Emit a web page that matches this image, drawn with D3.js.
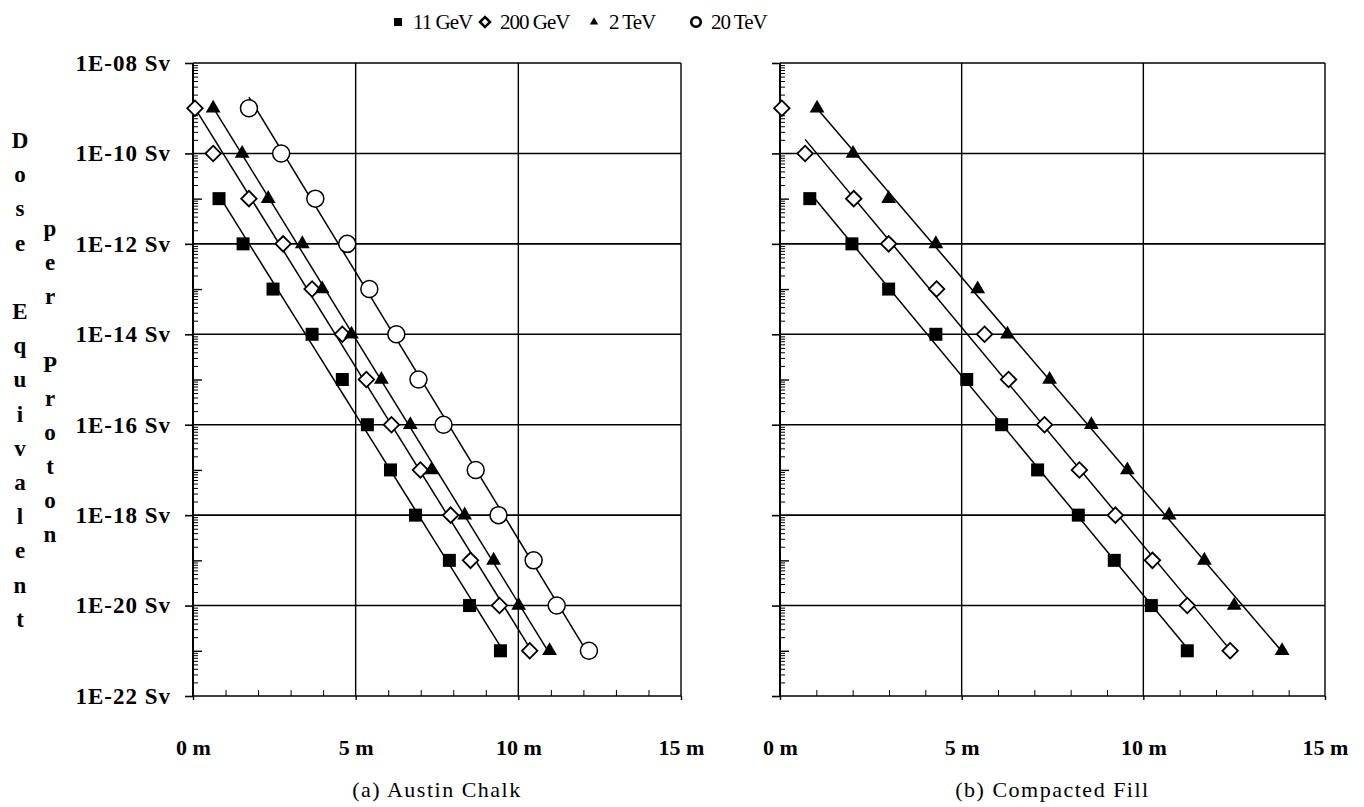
<!DOCTYPE html>
<html>
<head>
<meta charset="utf-8">
<script src="https://cdn.jsdelivr.net/npm/d3@7"></script>
<style>
  body { margin: 0; background: #fff; }
  svg text { font-family: "Liberation Serif", "Times New Roman", serif; fill: #000; }
  .tick-label { font-weight: bold; font-size: 23px; letter-spacing: 1px; }
  .x-label { font-weight: bold; font-size: 22px; }
  .legend-label { font-size: 21px; letter-spacing: -1px; }
  .caption { font-size: 22px; letter-spacing: 1.5px; }
  .y-title { font-weight: bold; font-size: 23px; }
</style>
</head>
<body>
<svg id="chart"></svg>
<script>
// series names for the legend
const seriesNames = ['11 GeV', '200 GeV', '2 TeV', '20 TeV'];

// dose per proton (Sv), one value per measured depth
const dose11 = [1e-11, 1e-12, 1e-13, 1e-14, 1e-15, 1e-16, 1e-17, 1e-18, 1e-19, 1e-20, 1e-21];
const doseHigh = [1e-9, 1e-10, 1e-11, 1e-12, 1e-13, 1e-14, 1e-15, 1e-16, 1e-17, 1e-18, 1e-19, 1e-20, 1e-21];

// (a) Austin Chalk: depth in m
const chalk11x  = [0.80, 1.54, 2.46, 3.66, 4.59, 5.36, 6.07, 6.84, 7.88, 8.50, 9.45];
const chalk200x = [0.06, 0.62, 1.72, 2.77, 3.66, 4.59, 5.33, 6.10, 6.99, 7.92, 8.53, 9.42, 10.35];
const chalk2Tx  = [0.62, 1.51, 2.31, 3.36, 3.97, 4.87, 5.79, 6.68, 7.33, 8.35, 9.24, 10.01, 10.96];
const chalk20Tx = [1.72, 2.71, 3.76, 4.74, 5.42, 6.25, 6.93, 7.70, 8.69, 9.39, 10.47, 11.18, 12.17];

// (b) Compacted Fill: depth in m
const fill11x  = [0.82, 1.98, 2.99, 4.29, 5.14, 6.10, 7.09, 8.21, 9.20, 10.22, 11.21];
const fill200x = [0.05, 0.69, 2.03, 2.99, 4.31, 5.63, 6.29, 7.28, 8.24, 9.23, 10.25, 11.21, 12.39];
const fill2Tx  = [1.02, 2.01, 2.99, 4.29, 5.44, 6.26, 7.42, 8.57, 9.56, 10.71, 11.68, 12.50, 13.82];
const fill200FitFrom = 1; // first 200 GeV point is left out of the fit line

// axes
const xTickVals = [0, 5, 10, 15];
const yTickVals = [1e-8, 1e-10, 1e-12, 1e-14, 1e-16, 1e-18, 1e-20, 1e-22];
const captions = ['(a) Austin Chalk', '(b) Compacted Fill'];
const yTitle1 = 'Dose Equivalent';
const yTitle2 = 'per Proton';

const W = 1364, H = 807;
const plotTop = 63, plotBottom = 696;

const svg = d3.select('#chart').attr('width', W).attr('height', H);

const panels = [
  {left: 193, right: 681, caption: captions[0], showYLabels: true, series: [
    {type: 0, x: chalk11x, y: dose11, fitFrom: 0},
    {type: 1, x: chalk200x, y: doseHigh, fitFrom: 0},
    {type: 2, x: chalk2Tx, y: doseHigh, fitFrom: 0},
    {type: 3, x: chalk20Tx, y: doseHigh, fitFrom: 0}
  ]},
  {left: 780, right: 1325, caption: captions[1], showYLabels: false, series: [
    {type: 0, x: fill11x, y: dose11, fitFrom: 0},
    {type: 1, x: fill200x, y: doseHigh, fitFrom: fill200FitFrom},
    {type: 2, x: fill2Tx, y: doseHigh, fitFrom: 0}
  ]}
];

// least squares in log space
function fitLine(xs, ys) {
  const ls = ys.map(Math.log10);
  const mx = d3.mean(xs), ml = d3.mean(ls);
  const slope = d3.sum(xs, (x, i) => (x - mx) * (ls[i] - ml)) / d3.sum(xs, x => (x - mx) * (x - mx));
  const b = ml - slope * mx;
  return x => Math.pow(10, b + slope * x);
}

function drawMarker(g, type, big) {
  if (type === 0) {
    const s = big ? 13 : 8;
    g.append('rect').attr('x', -s / 2).attr('y', -s / 2).attr('width', s).attr('height', s).attr('fill', '#000');
  } else if (type === 1) {
    g.append('path')
        .attr('d', d3.symbol(d3.symbolSquare, big ? 120 : 50)())
        .attr('transform', 'rotate(45)')
        .attr('fill', '#fff').attr('stroke', '#000').attr('stroke-width', big ? 1.8 : 2.6);
  } else if (type === 2) {
    g.append('path')
        .attr('d', d3.symbol(d3.symbolTriangle, big ? 95 : 30)())
        .attr('fill', '#000');
  } else {
    g.append('circle').attr('r', big ? 8.5 : 4.8)
        .attr('fill', '#fff').attr('stroke', '#000').attr('stroke-width', big ? 1.5 : 2.6);
  }
}

const yMinor = [];
const yOdd = [];
for (let e = -22; e < -8; e++) {
  for (let m = 2; m <= 9; m++) yMinor.push(m * Math.pow(10, e));
  if (e % 2 !== 0) yOdd.push(Math.pow(10, e));
}

panels.forEach(p => {
  const x = d3.scaleLinear().domain([0, 15]).range([p.left, p.right]);
  const y = d3.scaleLog().domain([1e-22, 1e-8]).range([plotBottom, plotTop]);
  const g = svg.append('g');

  // grid
  g.selectAll('.hgrid').data(yTickVals).join('line')
      .attr('x1', p.left).attr('x2', p.right)
      .attr('y1', d => y(d)).attr('y2', d => y(d))
      .attr('stroke', '#000').attr('stroke-width', 1.6);
  g.selectAll('.vgrid').data(xTickVals).join('line')
      .attr('x1', d => x(d)).attr('x2', d => x(d))
      .attr('y1', plotTop).attr('y2', plotBottom)
      .attr('stroke', '#000').attr('stroke-width', d => d === 0 ? 2 : 1.4);

  // y axis ticks
  const yAxis = d3.axisLeft(y).tickValues(yTickVals).tickSize(8).tickPadding(14)
      .tickFormat(d => p.showYLabels ? '1E-' + String(-Math.round(Math.log10(d))).padStart(2, '0') + ' Sv' : '');
  const yG = g.append('g').attr('transform', `translate(${p.left},0)`).call(yAxis);
  yG.select('.domain').remove();
  yG.selectAll('line').attr('stroke-width', 1.6);
  yG.attr('font-family', null).attr('font-size', null);
  yG.selectAll('text').attr('class', 'tick-label');

  const yMinG = g.append('g').attr('transform', `translate(${p.left},0)`)
      .call(d3.axisLeft(y).tickValues(yMinor).tickSize(-5).tickFormat(''));
  yMinG.select('.domain').remove();
  const yOddG = g.append('g').attr('transform', `translate(${p.left},0)`)
      .call(d3.axisLeft(y).tickValues(yOdd).tickSize(-9).tickFormat(''));
  yOddG.select('.domain').remove();
  yOddG.selectAll('line').attr('stroke-width', 1.4);

  // x axis
  const xG = g.append('g').attr('transform', `translate(0,${plotBottom})`)
      .call(d3.axisBottom(x).tickValues(xTickVals).tickSize(4).tickPadding(39).tickFormat(d => d + ' m'));
  xG.select('.domain').remove();
  xG.selectAll('line').attr('stroke-width', 1.4);
  xG.attr('font-family', null).attr('font-size', null);
  xG.selectAll('text').attr('class', 'x-label');
  const xMinG = g.append('g').attr('transform', `translate(0,${plotBottom})`)
      .call(d3.axisBottom(x).tickValues(d3.range(1, 15).filter(v => v % 5 !== 0)).tickSize(-6).tickFormat(''));
  xMinG.select('.domain').remove();

  // fit lines
  p.series.forEach(s => {
    const xs = s.x.slice(s.fitFrom), ys = s.y.slice(s.fitFrom);
    const f = fitLine(xs, ys);
    const x0 = d3.min(xs), x1 = d3.max(xs);
    g.append('line')
        .attr('x1', x(x0)).attr('y1', y(f(x0)))
        .attr('x2', x(x1)).attr('y2', y(f(x1)))
        .attr('stroke', '#000').attr('stroke-width', 1.5);
  });

  // markers
  p.series.forEach(s => {
    s.x.forEach((xv, i) => {
      const m = g.append('g').attr('transform', `translate(${x(xv)},${y(s.y[i])})`);
      drawMarker(m, s.type, true);
    });
  });

  // caption
  svg.append('text').attr('class', 'caption')
      .attr('x', (p.left + p.right) / 2).attr('y', 797)
      .attr('text-anchor', 'middle')
      .text(p.caption);
});

// legend
const legendX = [398, 485, 594, 696];
seriesNames.forEach((name, i) => {
  const lg = svg.append('g').attr('transform', `translate(${legendX[i]},22)`);
  drawMarker(lg, i, false);
  lg.append('text').attr('class', 'legend-label')
      .attr('x', 15).attr('y', 7)
      .text(name);
});

// vertical y title, one letter per line
function stackedText(str, cx, y0, step) {
  const t = svg.append('text').attr('class', 'y-title').attr('text-anchor', 'middle');
  str.split('').forEach((ch, i) => {
    t.append('tspan').attr('x', cx).attr('y', y0 + i * step).text(ch === ' ' ? '\u00a0' : ch);
  });
}
stackedText(yTitle1, 20, 148, 34.2);
stackedText(yTitle2, 50, 236, 34);
</script>
</body>
</html>
